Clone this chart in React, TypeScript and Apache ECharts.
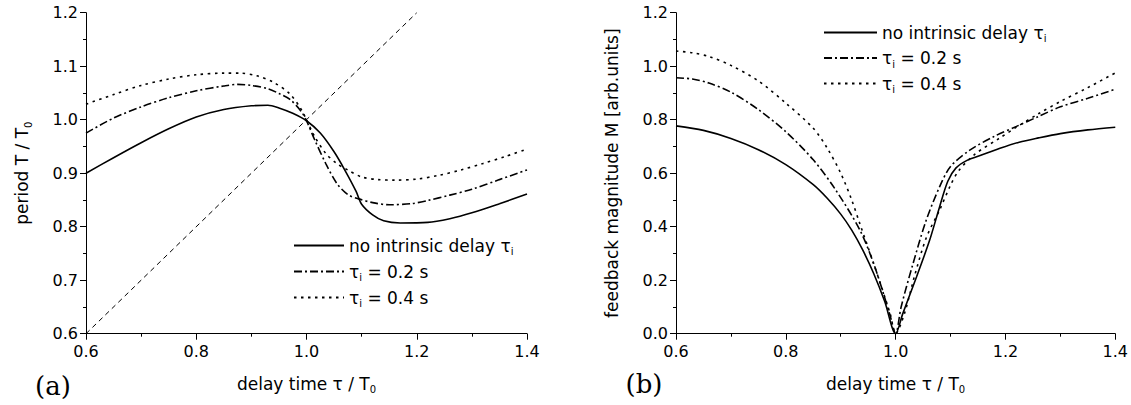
import React, { useEffect, useRef } from "react";
import * as echarts from "echarts";

// ---------- data: panel (a) period T / T0 ----------
const aSolidX = [0.60, 0.65, 0.70, 0.75, 0.80, 0.85, 0.90, 0.93, 0.95, 0.975, 1.00, 1.025, 1.05, 1.07, 1.09, 1.10, 1.12, 1.14, 1.17, 1.22, 1.26, 1.30, 1.35, 1.40];
const aSolidY = [0.900, 0.929, 0.957, 0.983, 1.005, 1.019, 1.026, 1.027, 1.022, 1.012, 0.998, 0.975, 0.940, 0.905, 0.866, 0.842, 0.822, 0.811, 0.807, 0.808, 0.815, 0.826, 0.843, 0.861];

const aDashX = [0.60, 0.65, 0.70, 0.75, 0.80, 0.85, 0.875, 0.90, 0.93, 0.95, 0.97, 0.99, 1.00, 1.015, 1.035, 1.055, 1.075, 1.095, 1.12, 1.15, 1.19, 1.22, 1.26, 1.30, 1.35, 1.40];
const aDashY = [0.975, 1.003, 1.024, 1.041, 1.054, 1.063, 1.066, 1.064, 1.058, 1.049, 1.038, 1.016, 0.998, 0.962, 0.918, 0.881, 0.860, 0.852, 0.845, 0.841, 0.843, 0.849, 0.859, 0.870, 0.888, 0.906];

const aDotX = [0.60, 0.65, 0.70, 0.75, 0.80, 0.85, 0.88, 0.91, 0.94, 0.97, 0.99, 1.00, 1.015, 1.035, 1.055, 1.075, 1.10, 1.13, 1.16, 1.20, 1.24, 1.28, 1.32, 1.36, 1.40];
const aDotY = [1.029, 1.047, 1.064, 1.076, 1.084, 1.087, 1.087, 1.082, 1.070, 1.048, 1.020, 1.000, 0.968, 0.937, 0.918, 0.906, 0.893, 0.888, 0.887, 0.889, 0.896, 0.906, 0.918, 0.931, 0.945];

const diagX = [0.6, 1.2];
const diagY = [0.6, 1.2];

// ---------- data: panel (b) feedback magnitude M ----------
const bSolidX = [0.60, 0.65, 0.70, 0.75, 0.80, 0.85, 0.875, 0.90, 0.92, 0.94, 0.96, 0.98, 1.00, 1.013, 1.038, 1.062, 1.08, 1.095, 1.11, 1.13, 1.15, 1.19, 1.225, 1.26, 1.30, 1.35, 1.40];
const bSolidY = [0.777, 0.760, 0.730, 0.688, 0.632, 0.557, 0.507, 0.447, 0.387, 0.313, 0.225, 0.121, 0.000, 0.075, 0.212, 0.350, 0.474, 0.570, 0.620, 0.648, 0.663, 0.693, 0.716, 0.732, 0.748, 0.762, 0.772];

const bDashX = [0.60, 0.63, 0.66, 0.70, 0.75, 0.80, 0.85, 0.89, 0.935, 0.962, 0.989, 1.00, 1.01, 1.03, 1.055, 1.08, 1.10, 1.135, 1.18, 1.22, 1.26, 1.30, 1.35, 1.40];
const bDashY = [0.957, 0.952, 0.937, 0.903, 0.838, 0.755, 0.650, 0.540, 0.387, 0.250, 0.075, 0.000, 0.100, 0.250, 0.420, 0.549, 0.625, 0.686, 0.738, 0.775, 0.812, 0.848, 0.880, 0.914];

const bDotX = [0.60, 0.63, 0.66, 0.70, 0.75, 0.80, 0.85, 0.875, 0.90, 0.92, 0.935, 0.96, 0.99, 1.00, 1.016, 1.035, 1.056, 1.08, 1.10, 1.115, 1.145, 1.19, 1.22, 1.26, 1.30, 1.35, 1.40];
const bDotY = [1.057, 1.050, 1.036, 1.003, 0.945, 0.862, 0.768, 0.695, 0.600, 0.500, 0.410, 0.262, 0.075, 0.000, 0.075, 0.220, 0.360, 0.462, 0.555, 0.610, 0.672, 0.732, 0.772, 0.822, 0.868, 0.920, 0.975];

// ---------- labels ----------
const NAME_NONE = "no intrinsic delay τi";
const NAME_02 = "τi = 0.2 s";
const NAME_04 = "τi = 0.4 s";
const legendNames = [NAME_NONE, NAME_02, NAME_04];
const xAxisTitle = "{t|delay time τ / T}{s|0}";
const yAxisTitleA = "{t|period T / T}{s|0}";
const yAxisTitleB = "{t|feedback magnitude M [arb.units]}";
const panelLabels = ["(a)", "(b)"];

const zip = (xs: number[], ys: number[]) => xs.map((x, i) => [x, ys[i]]);

const FONT = "DejaVu Sans";
const BLACK = "#000";

const rich = {
  t: { fontFamily: FONT, fontSize: 17, color: BLACK, lineHeight: 22 },
  s: { fontFamily: FONT, fontSize: 10, color: BLACK, lineHeight: 9, verticalAlign: "bottom" },
};

const legendFormatter = (name: string) => {
  if (name === NAME_NONE) return "{t|no intrinsic delay τ}{s|i}";
  if (name === NAME_02) return "{t|τ}{s|i}{t| = 0.2 s}";
  return "{t|τ}{s|i}{t| = 0.4 s}";
};

const DASHDOT = [8, 3, 2, 3];
const DOT = [2.5, 4.5];

function makeXAxis(gridIndex: number) {
  return {
    type: "value",
    gridIndex,
    min: 0.6,
    max: 1.4,
    interval: 0.2,
    name: xAxisTitle,
    nameLocation: "middle",
    nameGap: 39,
    nameTextStyle: { rich },
    axisLine: { show: true, onZero: false, lineStyle: { color: BLACK, width: 1 } },
    axisTick: { show: true, inside: false, length: 6, lineStyle: { color: BLACK } },
    minorTick: { show: true, splitNumber: 2, length: 3, lineStyle: { color: BLACK } },
    splitLine: { show: false },
    axisLabel: {
      color: BLACK,
      fontFamily: FONT,
      fontSize: 16,
      margin: 10,
      formatter: (v: number) => v.toFixed(1),
    },
  };
}

function makeYAxis(gridIndex: number, min: number, max: number, interval: number, name: string) {
  return {
    type: "value",
    gridIndex,
    min,
    max,
    interval,
    name,
    nameLocation: "middle",
    nameGap: 53,
    nameRotate: 90,
    nameTextStyle: { rich },
    axisLine: { show: true, onZero: false, lineStyle: { color: BLACK, width: 1 } },
    axisTick: { show: true, inside: false, length: 6, lineStyle: { color: BLACK } },
    minorTick: { show: true, splitNumber: 2, length: 3, lineStyle: { color: BLACK } },
    splitLine: { show: false },
    axisLabel: {
      color: BLACK,
      fontFamily: FONT,
      fontSize: 16,
      margin: 8,
      formatter: (v: number) => v.toFixed(1),
    },
  };
}

function lineSeries(name: string, xi: number, data: number[][], type: any, width: number) {
  return {
    type: "line",
    name,
    xAxisIndex: xi,
    yAxisIndex: xi,
    data,
    symbol: "none",
    showSymbol: false,
    smooth: 0.3,
    lineStyle: { color: BLACK, width, type },
    itemStyle: { color: BLACK },
    z: 3,
  };
}

function makeLegend(left: number, top: number, itemWidth: number, itemGap: number) {
  return {
    left,
    top,
    orient: "vertical",
    padding: 0,
    itemWidth,
    itemHeight: 14,
    itemGap,
    selectedMode: false,
    data: legendNames,
    formatter: legendFormatter,
    itemStyle: { opacity: 0, borderWidth: 0 },
    textStyle: { rich },
  };
}

export default function App() {
  const ref = useRef<HTMLDivElement>(null);

  useEffect(() => {
    if (!ref.current) return;
    const chart = echarts.init(ref.current, undefined, { renderer: "svg" });
    const option: any = {
      animation: false,
      backgroundColor: "#fff",
      textStyle: { fontFamily: FONT },
      grid: [
        { left: 86, top: 12.7, width: 441, height: 321 },
        { left: 676, top: 12.7, width: 440, height: 321 },
      ],
      xAxis: [makeXAxis(0), makeXAxis(1)],
      yAxis: [
        makeYAxis(0, 0.6, 1.2, 0.1, yAxisTitleA),
        makeYAxis(1, 0, 1.2, 0.2, yAxisTitleB),
      ],
      legend: [makeLegend(293, 237, 50, 6.5), makeLegend(823, 24, 53, 6)],
      series: [
        {
          type: "line",
          name: "diagonal",
          xAxisIndex: 0,
          yAxisIndex: 0,
          data: zip(diagX, diagY),
          symbol: "none",
          lineStyle: { color: BLACK, width: 1, type: [5, 4] },
          z: 2,
        },
        lineSeries(NAME_NONE, 0, zip(aSolidX, aSolidY), "solid", 1.6),
        lineSeries(NAME_02, 0, zip(aDashX, aDashY), DASHDOT, 1.6),
        lineSeries(NAME_04, 0, zip(aDotX, aDotY), DOT, 1.6),
        lineSeries(NAME_NONE, 1, zip(bSolidX, bSolidY), "solid", 1.6),
        lineSeries(NAME_02, 1, zip(bDashX, bDashY), DASHDOT, 1.6),
        lineSeries(NAME_04, 1, zip(bDotX, bDotY), DOT, 1.6),
      ],
      graphic: [
        {
          type: "text",
          x: 53,
          y: 386,
          style: {
            text: panelLabels[0],
            fontFamily: "DejaVu Serif",
            fontSize: 26,
            fill: BLACK,
            align: "center",
            verticalAlign: "middle",
          },
        },
        {
          type: "text",
          x: 644,
          y: 384,
          style: {
            text: panelLabels[1],
            fontFamily: "DejaVu Serif",
            fontSize: 26,
            fill: BLACK,
            align: "center",
            verticalAlign: "middle",
          },
        },
      ],
    };
    chart.setOption(option);
    return () => chart.dispose();
  }, []);

  return (
    <div
      ref={ref}
      style={{ position: "fixed", left: 0, top: 0, width: 1131, height: 405, background: "#fff" }}
    />
  );
}
